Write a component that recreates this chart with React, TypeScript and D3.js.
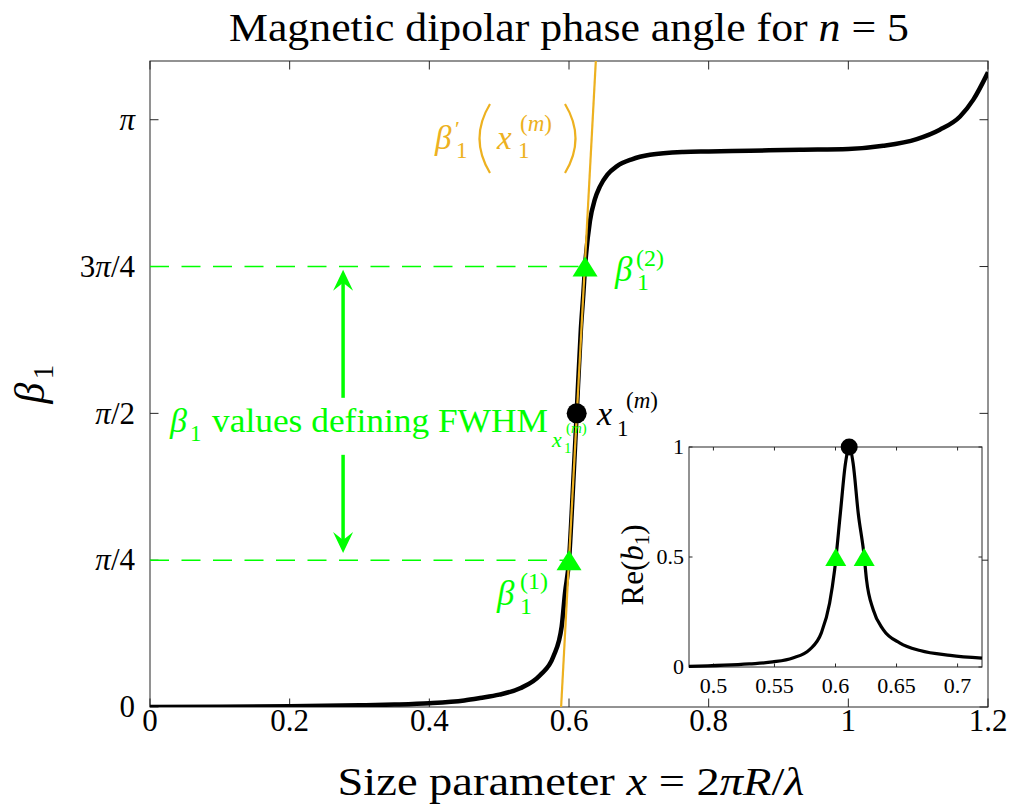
import React from "react";
import * as d3 from "d3";

const PI = Math.PI;

// Main curve: phase angle beta_1 vs size parameter x
const mainX = [0, 0.1, 0.2, 0.3, 0.35, 0.4, 0.45, 0.4726, 0.5, 0.53, 0.5585, 0.5776, 0.5895, 0.5943, 0.6, 0.605, 0.611, 0.617, 0.6206, 0.623, 0.63, 0.637, 0.6444, 0.655, 0.6683, 0.69, 0.716, 0.7637, 0.8, 0.859, 0.931, 1.0, 1.05, 1.098, 1.131, 1.16, 1.179, 1.2];
const mainBeta = [0, 0.001, 0.004, 0.009, 0.013, 0.02, 0.035, 0.048, 0.066, 0.1, 0.17, 0.27, 0.43, 0.61, 0.785, 1.12, 1.571, 2.02, 2.214, 2.356, 2.6, 2.715, 2.785, 2.848, 2.892, 2.93, 2.954, 2.969, 2.972, 2.976, 2.981, 2.985, 3.002, 3.038, 3.088, 3.159, 3.249, 3.395];

// Inset: Re(b1)
const insetX = [0.48, 0.5294, 0.5486, 0.565, 0.5788, 0.5884, 0.5952, 0.5993, 0.604, 0.6082, 0.6112, 0.6144, 0.6186, 0.6235, 0.6254, 0.6309, 0.6391, 0.6528, 0.6693, 0.694, 0.72];
const insetRe = [0.003, 0.014, 0.023, 0.041, 0.079, 0.155, 0.291, 0.442, 0.7, 0.927, 1.0, 0.927, 0.7, 0.503, 0.397, 0.26, 0.17, 0.109, 0.075, 0.053, 0.04];

const xTicks = [0, 0.2, 0.4, 0.6, 0.8, 1, 1.2];
const xTickLabels = ["0", "0.2", "0.4", "0.6", "0.8", "1", "1.2"];
const yTicks = [0, PI / 4, PI / 2, (3 * PI) / 4, PI];
const yTickLabels = ["0", "π/4", "π/2", "3π/4", "π"];
const insetXTicks = [0.5, 0.55, 0.6, 0.65, 0.7];
const insetXTickLabels = ["0.5", "0.55", "0.6", "0.65", "0.7"];
const insetYTicks = [0, 0.5, 1];
const insetYTickLabels = ["0", "0.5", "1"];

const resonanceX = 0.611;
const resonanceBeta = PI / 2;
const fwhmX = [0.6, 0.623];
const fwhmBeta = [PI / 4, (3 * PI) / 4];
const insetFwhmX = [0.6002, 0.6235];
const insetFwhmRe = [0.5, 0.5];
const insetPeakX = 0.6112;
const insetPeakRe = 1;
const tangentX = [0.5887, 0.6384];
const tangentBeta = [0, 1.1 * PI];
const arrowX = 0.2765;
const arrowUpBeta = [1.654, 2.339];
const arrowDownBeta = [1.349, 0.824];

const GREEN = "#00FF00";
const ORANGE = "#EDB120";
const AX = "#262626";
const FONT = "'Liberation Serif', 'Times New Roman', serif";

const M = { left: 150, right: 988, top: 61, bottom: 707 };
const I = { left: 689, right: 982, top: 447, bottom: 667 };

function T(props: any) {
  const { x, y, size, italic, color, anchor, children, ...rest } = props;
  return (
    <text
      x={x}
      y={y}
      fontSize={size}
      fontStyle={italic ? "italic" : "normal"}
      fill={color || "#000"}
      textAnchor={anchor || "start"}
      fontFamily={FONT}
      {...rest}
    >
      {children}
    </text>
  );
}

function triPath(cx: number, cy: number, w: number, h: number) {
  return `M${cx},${cy - h / 2}L${cx + w / 2},${cy + h / 2}L${cx - w / 2},${cy + h / 2}Z`;
}

function arrowHead(tx: number, ty: number, dir: number) {
  // dir = -1 pointing up, +1 pointing down
  const L = 21, W = 10, notch = 13;
  return `M${tx},${ty}L${tx - W},${ty - dir * L}L${tx},${ty - dir * notch}L${tx + W},${ty - dir * L}Z`;
}

export default function App() {
  const x = d3.scaleLinear().domain([0, 1.2]).range([M.left, M.right]);
  const y = d3.scaleLinear().domain([0, 1.1 * PI]).range([M.bottom, M.top]);
  const xi = d3.scaleLinear().domain([0.48, 0.72]).range([I.left, I.right]);
  const yi = d3.scaleLinear().domain([0, 1]).range([I.bottom, I.top]);

  const mainLine = d3
    .line<number>()
    .x((_, i) => x(mainX[i]))
    .y((d) => y(d))
    .curve(d3.curveMonotoneX)(mainBeta);
  const insetLine = d3
    .line<number>()
    .x((_, i) => xi(insetX[i]))
    .y((d) => yi(d))
    .curve(d3.curveMonotoneX)(insetRe);

  const tick = 8.5;
  const itick = 3.5;

  const ax = x(arrowX);

  return (
    <svg width={1015} height={806} style={{ display: "block", position: "absolute", left: 0, top: 0 }}>
      <rect x={0} y={0} width={1015} height={806} fill="#fff" />
      <defs>
        <clipPath id="mainclip">
          <rect x={M.left} y={M.top} width={M.right - M.left} height={M.bottom - M.top} />
        </clipPath>
      </defs>

      {/* Title */}
      <T x={569} y={41} size={41} anchor="middle" textLength={680} lengthAdjust="spacingAndGlyphs">
        Magnetic dipolar phase angle for <tspan fontStyle="italic">n</tspan> = 5
      </T>

      {/* main axes box */}
      <rect x={M.left} y={M.top} width={M.right - M.left} height={M.bottom - M.top} fill="none" stroke={AX} strokeWidth={1} />
      {xTicks.map((t, i) => (
        <g key={"xt" + i}>
          <line x1={x(t)} x2={x(t)} y1={M.bottom} y2={M.bottom - tick} stroke={AX} />
          <line x1={x(t)} x2={x(t)} y1={M.top} y2={M.top + tick} stroke={AX} />
          <T x={x(t)} y={731} size={31} anchor="middle">{xTickLabels[i]}</T>
        </g>
      ))}
      {yTicks.map((t, i) => (
        <g key={"yt" + i}>
          <line x1={M.left} x2={M.left + tick} y1={y(t)} y2={y(t)} stroke={AX} />
          <line x1={M.right} x2={M.right - tick} y1={y(t)} y2={y(t)} stroke={AX} />
          <T x={135} y={y(t)} dy="0.33em" size={31} anchor="end">
            {yTickLabels[i].split("").map((c, k) => (
              <tspan key={k} fontStyle={c === "π" ? "italic" : "normal"}>{c}</tspan>
            ))}
          </T>
        </g>
      ))}

      {/* axis labels */}
      <T x={571} y={795} size={40} anchor="middle" textLength={467} lengthAdjust="spacingAndGlyphs">
        Size parameter <tspan fontStyle="italic">x</tspan> = 2<tspan fontStyle="italic">π</tspan>
        <tspan fontStyle="italic">R</tspan>/<tspan fontStyle="italic">λ</tspan>
      </T>
      <g transform="translate(44,385) rotate(-90)">
        <T x={-8} y={0} size={42} italic anchor="middle">β</T>
        <T x={13} y={9} size={29} anchor="middle">1</T>
      </g>

      {/* dashed green lines */}
      {fwhmX.map((fx, i) => (
        <line key={"dl" + i} x1={x(0)} x2={x(fx)} y1={y(fwhmBeta[i])} y2={y(fwhmBeta[i])} stroke={GREEN} strokeWidth={1.4} strokeDasharray="19,12.5" />
      ))}

      {/* curve */}
      <g clipPath="url(#mainclip)">
        <path d={mainLine || ""} fill="none" stroke="#000" strokeWidth={4.5} strokeLinejoin="round" />
        <line x1={x(tangentX[0])} x2={x(tangentX[1])} y1={y(tangentBeta[0])} y2={y(tangentBeta[1])} stroke={ORANGE} strokeWidth={2.2} />
      </g>

      {/* markers */}
      <circle cx={x(resonanceX)} cy={y(resonanceBeta)} r={10} fill="#000" />
      {fwhmX.map((fx, i) => (
        <path key={"tr" + i} d={triPath(x(fx), y(fwhmBeta[i]), 25, 20)} fill={GREEN} />
      ))}

      {/* arrows */}
      <line x1={ax} x2={ax} y1={y(arrowUpBeta[0])} y2={y(arrowUpBeta[1]) + 12} stroke={GREEN} strokeWidth={3.5} />
      <path d={arrowHead(ax, y(arrowUpBeta[1]), -1)} fill={GREEN} />
      <line x1={ax} x2={ax} y1={y(arrowDownBeta[0])} y2={y(arrowDownBeta[1]) - 12} stroke={GREEN} strokeWidth={3.5} />
      <path d={arrowHead(ax, y(arrowDownBeta[1]), 1)} fill={GREEN} />

      {/* Green annotation text */}
      <T x={170} y={432} size={34} italic color={GREEN}>β</T>
      <T x={190} y={441} size={23} color={GREEN}>1</T>
      <T x={212} y={432} size={33} color={GREEN} textLength={336} lengthAdjust="spacingAndGlyphs">values defining FWHM</T>
      <T x={552} y={447} size={22} italic color={GREEN}>x</T>
      <T x={564} y={453} size={15} color={GREEN}>1</T>
      <T x={566} y={433} size={15} color={GREEN}>(<tspan fontStyle="italic">m</tspan>)</T>

      {/* orange label */}
      <T x={435} y={149} size={33} italic color={ORANGE}>β</T>
      <T x={455} y={136} size={22} color={ORANGE}>′</T>
      <T x={456} y={158} size={23} color={ORANGE}>1</T>
      <path d="M490,104 Q469,138.5 490,173" fill="none" stroke={ORANGE} strokeWidth={2.2} />
      <T x={497} y={149} size={33} italic color={ORANGE}>x</T>
      <T x={518} y={158} size={23} color={ORANGE}>1</T>
      <T x={520} y={131} size={23} color={ORANGE}>(<tspan fontStyle="italic">m</tspan>)</T>
      <path d="M565,104 Q586,138.5 565,173" fill="none" stroke={ORANGE} strokeWidth={2.2} />

      {/* beta1^(2) */}
      <T x={615} y={281} size={35} italic color={GREEN}>β</T>
      <T x={637} y={290} size={24} color={GREEN}>1</T>
      <T x={636} y={266} size={24} color={GREEN}>(2)</T>
      {/* beta1^(1) */}
      <T x={497} y={605} size={35} italic color={GREEN}>β</T>
      <T x={520} y={614} size={24} color={GREEN}>1</T>
      <T x={520} y={589} size={24} color={GREEN}>(1)</T>
      {/* x1^(m) */}
      <T x={597} y={425} size={34} italic>x</T>
      <T x={617} y={436} size={23}>1</T>
      <T x={626} y={408} size={23}>(<tspan fontStyle="italic">m</tspan>)</T>

      {/* Inset */}
      <rect x={I.left} y={I.top} width={I.right - I.left} height={I.bottom - I.top} fill="#fff" stroke={AX} strokeWidth={1} />
      {insetXTicks.map((t, i) => (
        <g key={"ixt" + i}>
          <line x1={xi(t)} x2={xi(t)} y1={I.bottom} y2={I.bottom - itick} stroke={AX} />
          <line x1={xi(t)} x2={xi(t)} y1={I.top} y2={I.top + itick} stroke={AX} />
          <T x={xi(t)} y={693} size={22} anchor="middle">{insetXTickLabels[i]}</T>
        </g>
      ))}
      {insetYTicks.map((t, i) => (
        <g key={"iyt" + i}>
          <line x1={I.left} x2={I.left + itick} y1={yi(t)} y2={yi(t)} stroke={AX} />
          <line x1={I.right} x2={I.right - itick} y1={yi(t)} y2={yi(t)} stroke={AX} />
          <T x={684} y={yi(t)} dy="0.33em" size={22} anchor="end">{insetYTickLabels[i]}</T>
        </g>
      ))}
      <g transform="translate(643,565) rotate(-90)">
        <T x={0} y={0} size={31} anchor="middle">
          Re(<tspan fontStyle="italic">b</tspan><tspan fontSize={21} dy={6}>1</tspan><tspan dy={-6}>)</tspan>
        </T>
      </g>
      <path d={insetLine || ""} fill="none" stroke="#000" strokeWidth={3.2} strokeLinejoin="round" />
      <circle cx={xi(insetPeakX)} cy={yi(insetPeakRe)} r={8.5} fill="#000" />
      {insetFwhmX.map((fx, i) => (
        <path key={"itr" + i} d={triPath(xi(fx), yi(insetFwhmRe[i]), 21, 18)} fill={GREEN} />
      ))}
    </svg>
  );
}
